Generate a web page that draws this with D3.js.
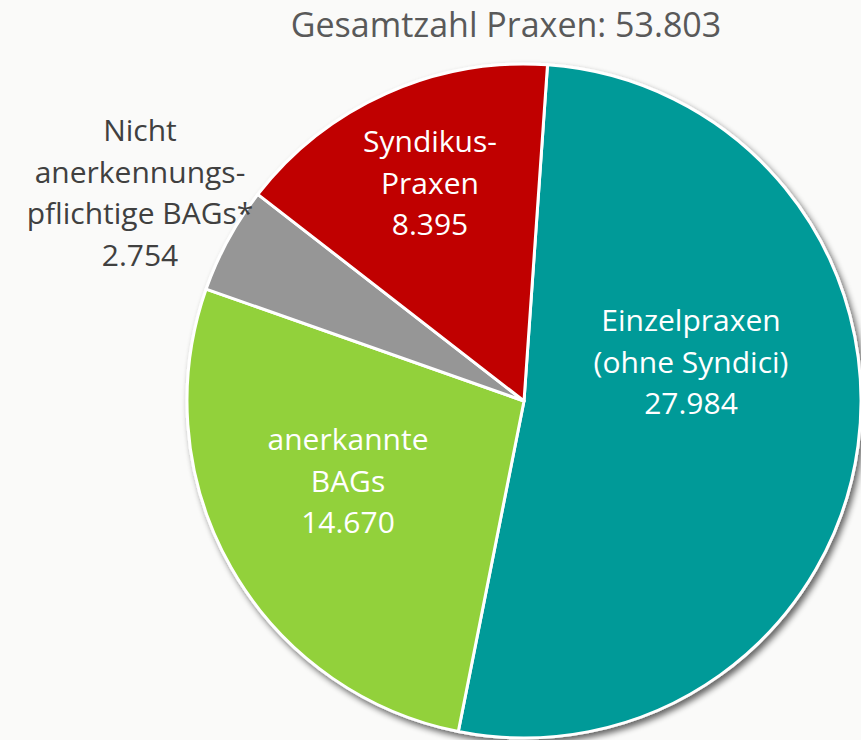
<!DOCTYPE html>
<html>
<head>
<meta charset="utf-8">
<script src="https://cdn.jsdelivr.net/npm/d3@7"></script>
<style>
  body { margin: 0; background: #fafaf9; }
  svg { display: block; }
  .general-font-family { font-family: "Segoe UI", "Open Sans", "Noto Sans", sans-serif; }
</style>
</head>
<body>
<svg id="viz-svg" width="861" height="740"></svg>
<script>
// data
var categories = ["Einzelpraxen (ohne Syndici)", "anerkannte BAGs", "Nicht anerkennungspflichtige BAGs*", "Syndikus-Praxen"]
  , values = [27984, 14670, 2754, 8395]
  , labelLines = [
      ["Einzelpraxen", "(ohne Syndici)", "27.984"]
    , ["anerkannte", "BAGs", "14.670"]
    , ["Nicht", "anerkennungs-", "pflichtige BAGs*", "2.754"]
    , ["Syndikus-", "Praxen", "8.395"]
  ]
  , colors = ["#029a98", "#92d13a", "#969696", "#c00000"]
  , titleText = "Gesamtzahl Praxen: 53.803"

var width = 861
  , height = 740
  , cx = 524
  , cy = 401
  , radius = 337
  , startAngle = 4 * Math.PI / 180
  , lineHeight = 41.5

var svg = d3.select("#viz-svg")

var defs = svg.append("defs")
var shadow = defs.append("filter")
  .attr("id", "pie-shadow")
  .attr("x", "-10%").attr("y", "-10%")
  .attr("width", "120%").attr("height", "120%")
shadow.append("feGaussianBlur").attr("in", "SourceAlpha").attr("stdDeviation", 3).attr("result", "blur")
shadow.append("feOffset").attr("in", "blur").attr("dx", 3).attr("dy", 4).attr("result", "off")
shadow.append("feComponentTransfer").attr("in", "off").attr("result", "soft")
  .append("feFuncA").attr("type", "linear").attr("slope", 0.6)
var merge = shadow.append("feMerge")
merge.append("feMergeNode").attr("in", "soft")
merge.append("feMergeNode").attr("in", "SourceGraphic")

// title
svg.append("text")
  .attr("class", "general-font-family")
  .attr("x", 506)
  .attr("y", 37)
  .attr("text-anchor", "middle")
  .style("font-size", "34px")
  .style("fill", "#595959")
  .text(titleText)

var pie = d3.pie()
  .sort(null)
  .startAngle(startAngle)
  .endAngle(startAngle + 2 * Math.PI)
  .value(function(d) { return d; })

var arc = d3.arc()
  .innerRadius(0)
  .outerRadius(radius)

var arcs = pie(values)

var g = svg.append("g")
  .attr("transform", "translate(" + cx + "," + cy + ")")

g.append("g")
  .attr("filter", "url(#pie-shadow)")
  .selectAll("path")
    .data(arcs)
  .enter().append("path")
    .attr("d", arc)
    .style("fill", function(d, i) { return colors[i]; })
    .style("stroke", "#ffffff")
    .style("stroke-width", 3)
    .style("stroke-linejoin", "round")

// label text colour: only the small grey slice has its label outside
var outside = [false, false, true, false]

// label block centres, relative to pie center
var labelPos = [[167, -39], [-176, 80], [-384, -208], [-94, -218]]

var labels = g.selectAll(".slice-label")
    .data(arcs)
  .enter().append("text")
    .attr("class", "slice-label general-font-family")
    .attr("text-anchor", "middle")
    .style("font-size", "30px")
    .style("fill", function(d, i) { return outside[i] ? "#404040" : "#ffffff"; })

labels.each(function(d, i) {
  var lines = labelLines[i]
    , x = labelPos[i][0]
    , y = labelPos[i][1] - (lines.length - 1) * lineHeight / 2
  d3.select(this).selectAll("tspan")
      .data(lines)
    .enter().append("tspan")
      .attr("x", x)
      .attr("y", function(t, j) { return y + j * lineHeight; })
      .attr("dy", "0.35em")
      .text(function(t) { return t; })
})
</script>
</body>
</html>
